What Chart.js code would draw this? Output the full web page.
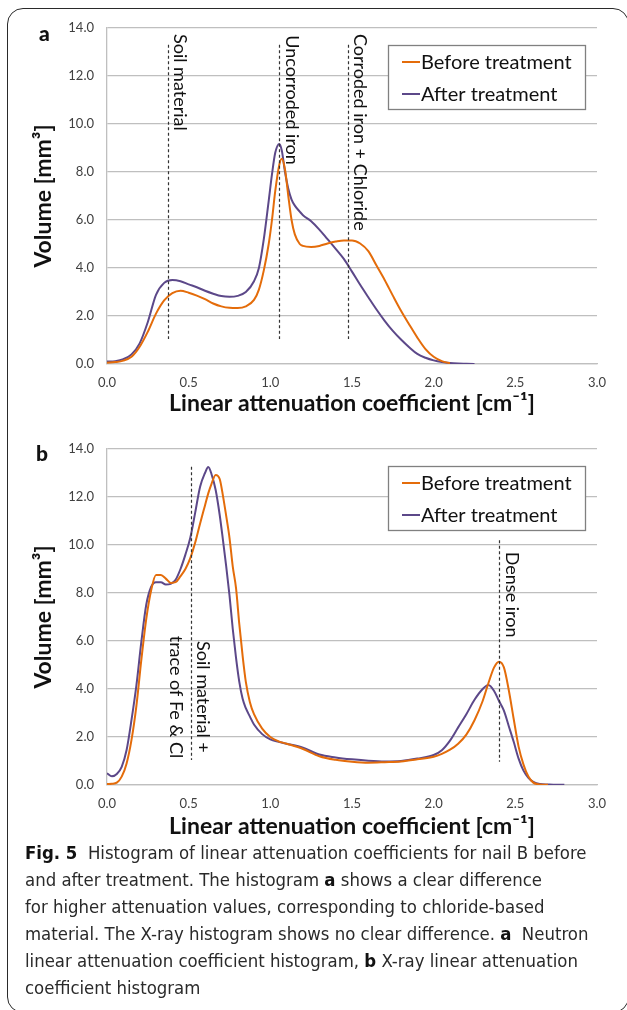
<!DOCTYPE html>
<html><head><meta charset="utf-8">
<script src="https://cdn.jsdelivr.net/npm/chart.js@4.4.1/dist/chart.umd.min.js"></script>
<style>
html,body{margin:0;padding:0;background:#fff;width:627px;height:1010px;overflow:hidden;position:relative;}
#frame{position:absolute;left:7px;top:8px;width:622px;height:1005px;border:1.5px solid #2a2a2a;border-radius:16px;box-sizing:border-box;}
canvas{position:absolute;left:0;}
#c1{top:0px}
#c2{top:420px}
.panel{position:absolute;font-family:Lato,sans-serif;font-weight:900;font-size:21px;color:#111;line-height:21px}
#caption{position:absolute;left:25px;top:839px;font-family:'Liberation Sans Narrow','DejaVu Sans Condensed',sans-serif;font-size:18.4px;line-height:27px;color:#2a2a2a;white-space:nowrap}
#caption b{color:#111}
</style></head>
<body>
<div id="frame"></div>
<canvas id="c1" width="627" height="420"></canvas>
<canvas id="c2" width="627" height="420"></canvas>
<div class="panel" style="left:39px;top:22px">a</div>
<div class="panel" style="left:36px;top:442px">b</div>
<div id="caption"><b>Fig. 5</b>&nbsp; Histogram of linear attenuation coefficients for nail B before<br>and after treatment. The histogram <b>a</b> shows a clear difference<br>for higher attenuation values, corresponding to chloride-based<br>material. The X-ray histogram shows no clear difference. <b>a</b>&nbsp; Neutron<br>linear attenuation coefficient histogram, <b>b</b> X-ray linear attenuation<br>coefficient histogram</div>
<script>
// ---------- data ----------
const seriesNames = ['Before treatment', 'After treatment'];
const xTickLabels = ['0.0','0.5','1.0','1.5','2.0','2.5','3.0'];
const yTickLabels = ['0.0','2.0','4.0','6.0','8.0','10.0','12.0','14.0'];

// Panel a: neutron
const neutronX = [0,0.05,0.1,0.15,0.2,0.25,0.3,0.35,0.4,0.45,0.5,0.55,0.6,0.65,0.7,0.75,0.8,0.85,0.9,0.93,0.96,0.99,1.01,1.03,1.055,1.07,1.09,1.11,1.13,1.15,1.18,1.2,1.25,1.3,1.35,1.4,1.45,1.5,1.55,1.6,1.65,1.7,1.75,1.8,1.85,1.9,1.95,2.0,2.05,2.1,2.15,2.2,2.25];
const neutronBefore = [0.05,0.08,0.14,0.3,0.72,1.35,2.1,2.65,2.95,3.05,2.97,2.85,2.7,2.52,2.4,2.34,2.33,2.4,2.67,3.1,3.9,5.0,6.0,7.2,8.3,8.55,8.1,7.0,6.0,5.4,5.0,4.92,4.88,4.92,5.02,5.1,5.15,5.15,5.02,4.7,4.1,3.5,2.85,2.22,1.65,1.1,0.62,0.3,0.12,0.03,null,null,null];
const neutronAfter = [0.1,0.12,0.2,0.4,0.86,1.75,2.88,3.38,3.5,3.45,3.32,3.2,3.05,2.93,2.83,2.8,2.84,3.0,3.45,4.0,5.2,6.8,7.9,8.8,9.17,8.9,8.0,7.3,6.85,6.6,6.35,6.2,5.95,5.6,5.2,4.8,4.38,3.85,3.3,2.78,2.27,1.8,1.38,1.02,0.7,0.42,0.26,0.15,0.08,0.04,0.02,0.01,0.0];
const neutronMarkerX = [0.375, 1.056, 1.478];
const neutronMarkerText = [['Soil material'], ['Uncorroded iron'], ['Corroded iron + Chloride']];

// Panel b: X-ray
const xrayX = [0,0.03,0.06,0.09,0.12,0.15,0.18,0.21,0.24,0.27,0.3,0.33,0.36,0.39,0.42,0.45,0.48,0.51,0.54,0.57,0.6,0.62,0.64,0.665,0.69,0.71,0.73,0.75,0.77,0.79,0.81,0.83,0.85,0.875,0.9,0.95,1.0,1.05,1.1,1.2,1.3,1.4,1.5,1.6,1.7,1.8,1.9,2.0,2.05,2.1,2.15,2.2,2.25,2.3,2.335,2.37,2.4,2.43,2.46,2.49,2.52,2.55,2.58,2.61,2.65,2.7,2.75,2.8];
const xrayBefore = [0.04,0.05,0.1,0.35,0.9,1.88,3.3,5.2,6.9,8.1,8.75,8.75,8.6,8.42,8.45,8.7,9.0,9.45,10.1,10.9,11.65,12.15,12.55,12.92,12.75,12.05,11.2,10.3,9.1,8.2,6.7,5.4,4.3,3.45,2.95,2.35,2.0,1.82,1.72,1.5,1.2,1.05,0.97,0.93,0.95,0.98,1.07,1.18,1.3,1.47,1.72,2.1,2.7,3.5,4.24,4.9,5.14,4.9,3.95,2.75,1.6,0.85,0.35,0.1,0.02,0.01,null,null];
const xrayAfter = [0.49,0.36,0.46,0.76,1.46,2.71,4.15,5.95,7.5,8.25,8.45,8.45,8.35,8.38,8.55,9.0,9.6,10.3,11.35,12.43,13.0,13.25,12.95,12.3,11.25,10.2,9.1,7.9,6.5,5.3,4.3,3.6,3.2,2.85,2.52,2.12,1.9,1.8,1.72,1.55,1.27,1.15,1.07,1.01,0.98,1.0,1.1,1.25,1.45,1.85,2.4,2.95,3.55,4.0,4.17,3.92,3.5,3.1,2.45,1.8,1.1,0.6,0.3,0.13,0.04,0.02,0.01,0.01];
const xrayMarkerX = [0.512, 2.4];
const xrayMarkerText = [['Soil material +', 'trace of Fe & Cl'], ['Dense iron']];

// ---------- styling ----------
const ORANGE = '#E46C0A';
const PURPLE = '#5C4889';
const GRID = '#bfbfbf';

function pts(xs, ys){ return xs.map((x,i)=>({x:x, y:ys[i]})); }

function markerPlugin(markers){
  return {id:'markers', afterDatasetsDraw(chart){
    const {ctx, scales:{x, y}} = chart;
    markers.forEach(m=>{
      const px = Math.round(x.getPixelForValue(m.x)) + 0.5;
      ctx.save();
      ctx.beginPath();
      ctx.setLineDash([3,2.5]);
      ctx.strokeStyle = '#333';
      ctx.lineWidth = 1.2;
      ctx.moveTo(px, y.getPixelForValue(m.y1));
      ctx.lineTo(px, y.getPixelForValue(m.y0));
      ctx.stroke();
      ctx.setLineDash([]);
      ctx.font = '18px Lato';
      ctx.fillStyle = '#111';
      ctx.translate(px, y.getPixelForValue(m.labelY));
      ctx.rotate(Math.PI/2);
      ctx.textAlign = m.align;
      ctx.textBaseline = 'alphabetic';
      m.lines.forEach((t,i)=> ctx.fillText(t, 0, -m.offsets[i]));
      ctx.restore();
    });
  }};
}

function legendPlugin(dx, dy, w, h, rowGap){
  return {id:'boxLegend', afterDatasetsDraw(chart){
    const {ctx, chartArea} = chart;
    const left = chartArea.left + dx, top = chartArea.top + dy;
    ctx.save();
    ctx.fillStyle = '#fff';
    ctx.fillRect(left, top, w, h);
    ctx.strokeStyle = '#808080';
    ctx.lineWidth = 1.3;
    ctx.strokeRect(left + 0.5, top + 0.5, w, h);
    ctx.font = '20px Lato';
    ctx.textBaseline = 'middle';
    ctx.textAlign = 'left';
    chart.data.datasets.forEach((ds, i)=>{
      const cy = top + 17 + i*rowGap;
      ctx.strokeStyle = ds.borderColor;
      ctx.lineWidth = 2;
      ctx.beginPath();
      ctx.moveTo(left + 14, cy); ctx.lineTo(left + 32, cy);
      ctx.stroke();
      ctx.fillStyle = '#111';
      ctx.fillText(ds.label, left + 33, cy + 1);
    });
    ctx.restore();
  }};
}

function makeChart(id, xs, before, after, padTop, xHeight, xTitlePad, markers, legendDy){
  return new Chart(document.getElementById(id), {
    type: 'line',
    data: { datasets: [
      {label: seriesNames[0], data: pts(xs, before), borderColor: ORANGE, borderWidth: 2, pointRadius: 0, cubicInterpolationMode: 'monotone', spanGaps: false},
      {label: seriesNames[1], data: pts(xs, after), borderColor: PURPLE, borderWidth: 2, pointRadius: 0, cubicInterpolationMode: 'monotone', spanGaps: false}
    ]},
    options: {
      responsive: false, animation: false, devicePixelRatio: 1,
      layout: {padding: {top: padTop, right: 30, left: 0, bottom: 0}},
      plugins: {legend: {display: false}, tooltip: {enabled: false}},
      scales: {
        x: {
          type: 'linear', min: 0, max: 3,
          afterFit: s => { s.height = xHeight; },
          afterBuildTicks: s => { s.ticks = xTickLabels.map(v => ({value: parseFloat(v)})); },
          grid: {display: false, drawTicks: false},
          border: {display: true, color: GRID, width: 1.3},
          ticks: {padding: 11, maxRotation: 0, font: {family: 'Lato', size: 13}, color: '#404040',
                  callback: (v, i) => xTickLabels[i]},
          title: {display: true, text: 'Linear attenuation coefficient [cm\u207B\u00B9]',
                  font: {family: 'Lato', size: 23, weight: 'bold'}, color: '#111', padding: {top: 0, bottom: xTitlePad}}
        },
        y: {
          min: 0, max: 14,
          afterFit: s => { s.width = 107; },
          afterBuildTicks: s => { s.ticks = yTickLabels.map(v => ({value: parseFloat(v)})); },
          grid: {color: GRID, lineWidth: 1.3, drawTicks: false},
          border: {display: true, color: GRID, width: 1.3},
          ticks: {padding: 13, font: {family: 'Lato', size: 13}, color: '#404040',
                  callback: (v, i) => yTickLabels[i]},
          title: {display: true, text: 'Volume [mm\u00B3]',
                  font: {family: 'Lato', size: 23, weight: 'bold'}, color: '#111', padding: {top: 30, bottom: 0}}
        }
      }
    },
    plugins: [markerPlugin(markers), legendPlugin(281, legendDy, 197, 64, 32)]
  });
}

makeChart('c1', neutronX, neutronBefore, neutronAfter, 28, 56, 3, [
  {x: neutronMarkerX[0], y0: 1.04, y1: 13.3, labelY: 13.75, align: 'left', lines: neutronMarkerText[0], offsets: [5]},
  {x: neutronMarkerX[1], y0: 1.04, y1: 13.3, labelY: 13.7, align: 'left', lines: neutronMarkerText[1], offsets: [6]},
  {x: neutronMarkerX[2], y0: 1.04, y1: 13.3, labelY: 13.75, align: 'left', lines: neutronMarkerText[2], offsets: [5]}
], 17);

makeChart('c2', xrayX, xrayBefore, xrayAfter, 29, 55, 0, [
  {x: xrayMarkerX[0], y0: 1.04, y1: 13.26, labelY: 3.67, align: 'center', lines: xrayMarkerText[0], offsets: [5, -22]},
  {x: xrayMarkerX[1], y0: 0.97, y1: 10.2, labelY: 9.72, align: 'left', lines: xrayMarkerText[1], offsets: [6]}
], 17);
</script>
</body></html>
